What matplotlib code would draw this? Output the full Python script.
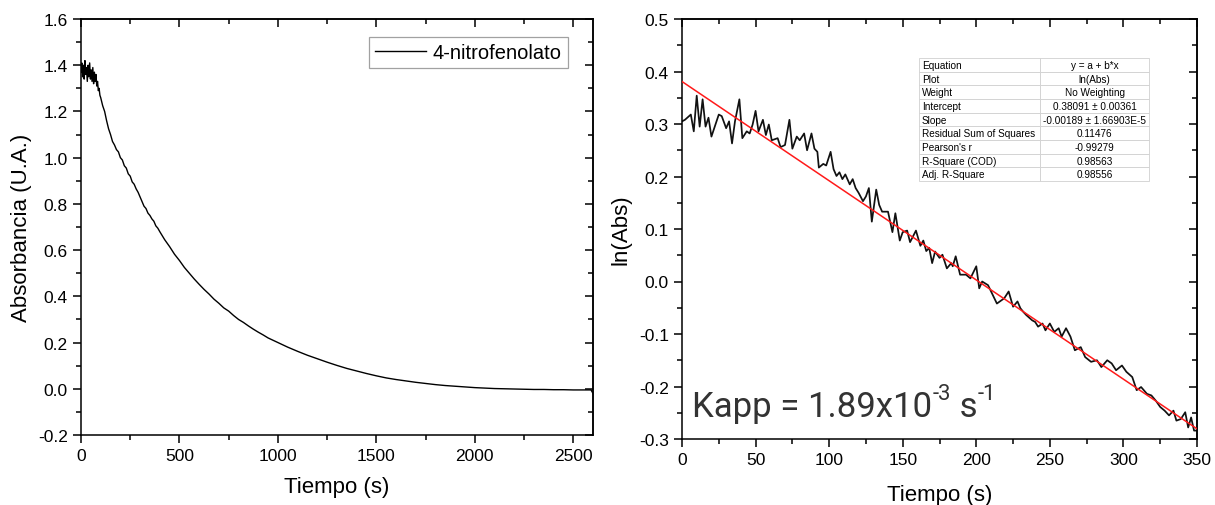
import matplotlib
matplotlib.use("Agg")
import matplotlib.pyplot as plt
import matplotlib.transforms as mtransforms
from matplotlib.ticker import MultipleLocator

plt.rcParams['font.family'] = ['Liberation Sans', 'DejaVu Sans']

# Left panel: absorbance of 4-nitrofenolato vs time
t_abs = [0, 4, 8, 12, 16, 20, 24, 28, 32, 36, 40, 44, 48, 52, 56, 60, 64, 68, 72, 76,
         80, 84, 88, 92, 96, 100,
         110, 120, 130, 140, 150, 160, 170, 180, 190, 200, 210, 220, 230, 240, 250,
         260, 270, 280, 290, 300, 310, 320, 330, 340, 350, 360, 370, 380, 390, 400,
         425, 450, 475, 500, 525, 550, 575, 600, 625, 650, 675, 700, 725, 750, 775,
         800, 825, 850, 875, 900, 925, 950, 975, 1000, 1050, 1100, 1150, 1200, 1250,
         1300, 1350, 1400, 1450, 1500, 1550, 1600, 1650, 1700, 1750, 1800, 1850, 1900,
         1950, 2000, 2050, 2100, 2150, 2200, 2250, 2300, 2350, 2400, 2450, 2500, 2550,
         2590, 2600]
absorb = [1.37, 1.41, 1.35, 1.40, 1.34, 1.42, 1.36, 1.39, 1.33, 1.40, 1.35, 1.41, 1.34,
          1.38, 1.33, 1.39, 1.32, 1.37, 1.33, 1.36, 1.31, 1.33, 1.29, 1.30, 1.27, 1.26,
          1.225, 1.20, 1.16, 1.125, 1.10, 1.07, 1.055, 1.035, 1.025, 1.00, 0.99, 0.965,
          0.955, 0.93, 0.92, 0.895, 0.885, 0.865, 0.85, 0.83, 0.81, 0.79, 0.78, 0.76,
          0.75, 0.735, 0.725, 0.705, 0.695, 0.68,
          0.645, 0.615, 0.582, 0.555, 0.525, 0.50, 0.475, 0.452, 0.43, 0.41, 0.388,
          0.37, 0.35, 0.336, 0.317, 0.30, 0.287, 0.272, 0.258, 0.245, 0.233, 0.22, 0.21,
          0.20, 0.18, 0.162, 0.145, 0.13, 0.115, 0.101, 0.088, 0.077, 0.066, 0.056,
          0.047, 0.040, 0.034, 0.028, 0.023, 0.018, 0.014, 0.011, 0.008, 0.005, 0.003,
          0.001, 0.0, -0.001, -0.002, -0.003, -0.003, -0.004, -0.004, -0.005, -0.005,
          -0.005, -0.02]

# Right panel: ln(Abs) vs time and its linear fit
t_ln = [0, 2, 6, 8, 10, 12, 14, 16, 18, 20, 25, 27, 30, 32, 34, 36, 39, 41, 44, 46, 48,
        50, 52, 55, 57, 59, 61, 65, 67, 70, 73, 75, 78, 80, 83, 85, 88, 90, 92, 93, 96,
        98, 101, 103, 105, 107, 109, 111, 114, 116, 118, 120, 123, 125, 127, 129, 132,
        134, 136, 140, 143, 145, 148, 150, 153, 155, 159, 162, 164, 166, 168, 170, 172,
        175, 177, 180, 183, 184, 186, 189, 193, 196, 200, 202, 204, 208, 214, 219, 222,
        225, 228, 230, 232, 234, 238, 240, 242, 245, 247, 250, 253, 256, 258, 261, 264,
        267, 271, 274, 278, 282, 285, 289, 292, 295, 299, 302, 306, 309, 312, 316, 319,
        322, 325, 328, 331, 334, 336, 339, 342, 344, 346, 348, 350]
ln_abs = [0.305, 0.308, 0.318, 0.286, 0.354, 0.295, 0.347, 0.295, 0.312, 0.276, 0.318,
          0.315, 0.292, 0.305, 0.263, 0.305, 0.347, 0.273, 0.286, 0.282, 0.299, 0.325,
          0.286, 0.308, 0.279, 0.299, 0.269, 0.273, 0.256, 0.260, 0.308, 0.253, 0.276,
          0.269, 0.282, 0.250, 0.282, 0.253, 0.247, 0.217, 0.224, 0.221, 0.247, 0.214,
          0.201, 0.208, 0.195, 0.204, 0.185, 0.195, 0.178, 0.169, 0.153, 0.162, 0.178,
          0.114, 0.175, 0.146, 0.133, 0.133, 0.094, 0.130, 0.078, 0.094, 0.097, 0.075,
          0.097, 0.068, 0.078, 0.058, 0.064, 0.035, 0.057, 0.045, 0.051, 0.025, 0.035,
          0.029, 0.048, 0.013, 0.013, 0.006, 0.029, -0.013, 0.000, -0.007, -0.042,
          -0.032, -0.019, -0.048, -0.038, -0.051, -0.058, -0.064, -0.074, -0.077,
          -0.086, -0.080, -0.093, -0.080, -0.096, -0.089, -0.105, -0.089, -0.105,
          -0.131, -0.125, -0.144, -0.153, -0.150, -0.163, -0.150, -0.156, -0.169,
          -0.160, -0.172, -0.182, -0.207, -0.201, -0.214, -0.217, -0.227, -0.239,
          -0.246, -0.255, -0.246, -0.265, -0.262, -0.249, -0.278, -0.259, -0.284,
          -0.284]
fit_intercept = 0.38091
fit_slope = -0.00189
fit_range = [0, 350]

table_rows = [
    ["Equation", "y = a + b*x"],
    ["Plot", "ln(Abs)"],
    ["Weight", "No Weighting"],
    ["Intercept", "0.38091 \u00b1 0.00361"],
    ["Slope", "-0.00189 \u00b1 1.66903E-5"],
    ["Residual Sum of Squares", "0.11476"],
    ["Pearson's r", "-0.99279"],
    ["R-Square (COD)", "0.98563"],
    ["Adj. R-Square", "0.98556"],
]

# Kapp label pieces: (text, is superscript)
kapp_parts = [("Kapp = 1.89x10", False), ("-3", True), (" s", False), ("-1", True)]

fig = plt.figure(figsize=(12.15, 5.06), dpi=100)
ax1 = fig.add_axes([81 / 1215, 70 / 506, 512 / 1215, 416 / 506])
ax2 = fig.add_axes([682 / 1215, 66 / 506, 515 / 1215, 420 / 506])


def origin_style(ax, xmaj, xmin, ymaj, ymin):
    for s in ax.spines.values():
        s.set_linewidth(1.1)
    ax.xaxis.set_major_locator(MultipleLocator(xmaj))
    ax.xaxis.set_minor_locator(MultipleLocator(xmin))
    ax.yaxis.set_major_locator(MultipleLocator(ymaj))
    ax.yaxis.set_minor_locator(MultipleLocator(ymin))
    ax.tick_params(which='major', direction='out', length=6, width=1.1, labelsize=12.5)
    ax.tick_params(which='minor', direction='out', length=3.5, width=1.1)
    # mirrored ticks pointing inward on top and right, Origin style
    top = ax.secondary_xaxis('top')
    top.xaxis.set_major_locator(MultipleLocator(xmaj))
    top.xaxis.set_minor_locator(MultipleLocator(xmin))
    right = ax.secondary_yaxis('right')
    right.yaxis.set_major_locator(MultipleLocator(ymaj))
    right.yaxis.set_minor_locator(MultipleLocator(ymin))
    for sec in (top, right):
        sec.tick_params(which='major', direction='in', length=6, width=1.1,
                        labeltop=False, labelright=False)
        sec.tick_params(which='minor', direction='in', length=3.5, width=1.1)
        for s in sec.spines.values():
            s.set_linewidth(1.1)


# left panel
ax1.plot(t_abs, absorb, color='black', linewidth=1.0, label='4-nitrofenolato')
ax1.set_xlim(0, 2600)
ax1.set_ylim(-0.2, 1.6)
origin_style(ax1, 500, 250, 0.2, 0.1)
ax1.yaxis.set_major_formatter(plt.FuncFormatter(lambda v, p: f"{v:.1f}"))
ax1.set_xlabel('Tiempo (s)', fontsize=16, labelpad=9)
ax1.set_ylabel('Absorbancia (U.A.)', fontsize=16, labelpad=4)
leg = ax1.legend(loc='upper right', bbox_to_anchor=(0.951, 0.957), fontsize=14.5,
                 fancybox=False, handlelength=2.5, borderaxespad=0, borderpad=0.3,
                 handletextpad=0.35)
leg.get_frame().set_edgecolor('#8a8a8a')
leg.get_frame().set_linewidth(0.9)

# right panel
ax2.plot(t_ln, ln_abs, color='#111111', linewidth=1.25, zorder=2)
fit_y = [fit_intercept + fit_slope * x for x in fit_range]
ax2.plot(fit_range, fit_y, color='#ff1a1a', linewidth=1.1, zorder=3)
ax2.set_xlim(0, 350)
ax2.set_ylim(-0.3, 0.5)
origin_style(ax2, 50, 25, 0.1, 0.05)
ax2.yaxis.set_major_formatter(plt.FuncFormatter(lambda v, p: f"{v:.1f}"))
ax2.set_xlabel('Tiempo (s)', fontsize=16, labelpad=12)
ax2.set_ylabel('ln(Abs)', fontsize=16, labelpad=5)

tbl = ax2.table(cellText=table_rows, colWidths=[0.526, 0.474], cellLoc='center',
                bbox=[0.461, 0.614, 0.446, 0.293], zorder=5)
tbl.auto_set_font_size(False)
tbl.set_fontsize(7.2)
for (r, c), cell in tbl.get_celld().items():
    cell.set_edgecolor('#d0d0d0')
    cell.set_linewidth(0.6)
    cell.set_facecolor('white')
    if c == 0:
        cell.set_text_props(ha='left')
        cell.PAD = 0.02

# Kapp text built from pieces so the superscripts keep a short hyphen
renderer = fig.canvas.get_renderer()
dx = 0.0
for piece, sup in kapp_parts:
    size = 16 if sup else 25
    dy = 12 if sup else 0.0
    tr = mtransforms.offset_copy(ax2.transAxes, fig=fig, x=dx, y=dy, units='points')
    txt = ax2.text(0.02, 0.055, piece, transform=tr, fontsize=size, family='Roboto',
                   color='#333333', ha='left', va='baseline')
    dx += txt.get_window_extent(renderer).width * 72 / fig.dpi

fig.savefig('out.png', dpi=100)
